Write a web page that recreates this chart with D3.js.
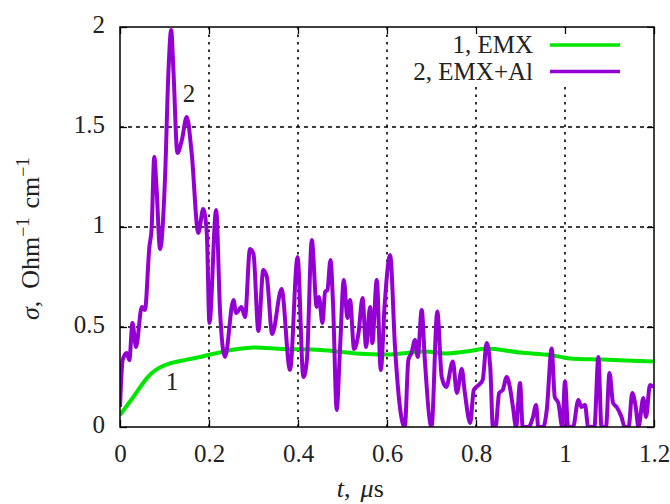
<!DOCTYPE html>
<html>
<head>
<meta charset="utf-8">
<script src="https://cdn.jsdelivr.net/npm/d3@7.9.0/dist/d3.min.js"></script>
<style>
  body { margin: 0; background: #fff; }
  text { font-family: "Liberation Serif", "DejaVu Serif", serif; fill: #222; }
</style>
</head>
<body>
<svg id="chart" width="670" height="504"></svg>
<script>
// curve 1, EMX
const tEmx = [0, 0.015, 0.030, 0.045, 0.060, 0.073, 0.086, 0.10, 0.112, 0.135, 0.157, 0.18, 0.199,
  0.232, 0.265, 0.30, 0.367, 0.45, 0.532, 0.607, 0.682, 0.734, 0.787, 0.824, 0.899, 0.966, 1.011,
  1.086, 1.2];
const sigmaEmx = [0.06, 0.105, 0.15, 0.198, 0.243, 0.272, 0.293, 0.308, 0.318, 0.33, 0.34, 0.35, 0.36,
  0.377, 0.39, 0.398, 0.39, 0.385, 0.368, 0.363, 0.377, 0.368, 0.38, 0.393, 0.372, 0.36, 0.343,
  0.337, 0.327];

// curve 2, EMX+Al
const tEmxAl = [0, 0.006, 0.015, 0.021, 0.028, 0.036, 0.049, 0.056, 0.066, 0.071, 0.077, 0.082, 0.090,
  0.101, 0.109, 0.115, 0.120, 0.129, 0.139, 0.150, 0.161, 0.176, 0.187, 0.195, 0.201, 0.216, 0.225,
  0.236, 0.255, 0.261, 0.273, 0.281, 0.292, 0.300, 0.311, 0.322, 0.330, 0.342, 0.363, 0.382, 0.399,
  0.412, 0.420, 0.431, 0.442, 0.447, 0.455, 0.461, 0.466, 0.473, 0.479, 0.487, 0.494, 0.503, 0.511,
  0.517, 0.526, 0.536, 0.545, 0.553, 0.562, 0.567, 0.577, 0.586, 0.595, 0.607, 0.618, 0.629, 0.640,
  0.648, 0.655, 0.663, 0.669, 0.678, 0.685, 0.700, 0.713, 0.723, 0.733, 0.748, 0.757, 0.768, 0.775,
  0.787, 0.795, 0.806, 0.815, 0.824, 0.832, 0.838, 0.844, 0.852, 0.860, 0.869, 0.876, 0.883, 0.890,
  0.899, 0.905, 0.918, 0.928, 0.935, 0.940, 0.951, 0.959, 0.970, 0.977, 0.985, 0.994, 1.000, 1.007,
  1.018, 1.030, 1.037, 1.045, 1.052, 1.066, 1.075, 1.082, 1.092, 1.100, 1.108, 1.116, 1.127, 1.134,
  1.143, 1.151, 1.159, 1.165, 1.176, 1.182, 1.191, 1.2];
const sigmaEmxAl = [0.10, 0.335, 0.37, 0.335, 0.52, 0.40, 0.60, 0.585, 0.90, 0.99, 1.35, 1.20, 0.89,
  1.235, 1.785, 1.985, 1.785, 1.37, 1.435, 1.55, 1.37, 0.97, 1.09, 0.97, 0.52, 1.085, 0.57,
  0.35, 0.635, 0.57, 0.60, 0.55, 0.89, 0.865, 0.48, 0.785, 0.75, 0.465, 0.69, 0.285, 0.85,
  0.25, 0.335, 0.935, 0.60, 0.65, 0.52, 0.677, 0.685, 0.835, 0.60, 0.085, 0.37, 0.735, 0.545,
  0.635, 0.39, 0.47, 0.645, 0.40, 0.60, 0.42, 0.735, 0.285, 0.62, 0.86, 0.40, 0.10, 0.0,
  0.335, 0.37, 0.435, 0.35, 0.585, 0.335, 0.0, 0.577, 0.25, 0.20, 0.327, 0.17, 0.29, 0.17,
  0.02, 0.185, 0.21, 0.235, 0.42, 0.30, 0.0, 0.0, 0.17, 0.185, 0.25, 0.20, 0.10, 0.0,
  0.22, 0.0, 0.0, 0.05, 0.11, 0.0, 0.0, 0.085, 0.393, 0.15, 0.12, 0.0, 0.227, 0.0,
  0.0, 0.135, 0.10, 0.11, 0.0, 0.0, 0.35, 0.0, 0.0, 0.27, 0.12, 0.10, 0.05, 0.0,
  0.0, 0.17, 0.10, 0.0, 0.145, 0.05, 0.21, 0.2];

const xTicks = [0, 0.2, 0.4, 0.6, 0.8, 1, 1.2];
const yTicks = [0, 0.5, 1, 1.5, 2];
const legendLabels = ["1, EMX", "2, EMX+Al"];
const colors = ["#00e600", "#9400d3"];

const svg = d3.select('#chart');
const margin = { left: 120, top: 27, right: 16, bottom: 77 };
const w = 670 - margin.left - margin.right;
const h = 504 - margin.top - margin.bottom;

const x = d3.scaleLinear().domain([0, 1.2]).range([0, w]);
const y = d3.scaleLinear().domain([0, 2]).range([h, 0]);

const g = svg.append('g').attr('transform', `translate(${margin.left},${margin.top})`);

// grid lines
g.selectAll('.vgrid').data(xTicks.slice(1, -1)).join('line')
  .attr('x1', d => x(d)).attr('x2', d => x(d))
  .attr('y1', 0).attr('y2', h)
  .attr('stroke', '#000').attr('stroke-width', 1.6).attr('stroke-dasharray', '2.5,5');
g.selectAll('.hgrid').data(yTicks.slice(1, -1)).join('line')
  .attr('x1', 0).attr('x2', w)
  .attr('y1', d => y(d)).attr('y2', d => y(d))
  .attr('stroke', '#000').attr('stroke-width', 1.6).attr('stroke-dasharray', '4,4');

// axes with inward ticks, mirrored
const fmt = d => String(d);
g.append('g').attr('transform', `translate(0,${h})`)
  .call(d3.axisBottom(x).tickValues(xTicks).tickSizeInner(-7).tickSizeOuter(0).tickPadding(17).tickFormat(fmt));
const yAxis = g.append('g')
  .call(d3.axisLeft(y).tickValues(yTicks).tickSizeInner(-7).tickSizeOuter(0).tickPadding(15).tickFormat(fmt));
g.append('g').attr('transform', `translate(${w},0)`)
  .call(d3.axisRight(y).tickValues(yTicks).tickSizeInner(-7).tickSizeOuter(0).tickFormat(''));

// legend box hides the grid behind it
g.append('rect').attr('x', 274).attr('y', 1).attr('width', w - 275).attr('height', 57).attr('fill', '#fff');
g.append('g')
  .call(d3.axisTop(x).tickValues(xTicks).tickSizeInner(-7).tickSizeOuter(0).tickFormat(''));

g.selectAll('.domain').remove();
g.selectAll('.tick line').attr('stroke', '#000').attr('stroke-width', 1.3);
g.selectAll('.tick text').style('font-size', '25px').style('font-family', '"Liberation Serif", serif').attr('fill', '#222');
yAxis.selectAll('.tick text').attr('dy', '0.2em');

legendLabels.forEach((label, i) => {
  const ly = 18 + i * 26.5;
  g.append('text').attr('x', 413).attr('y', ly).attr('dy', '0.33em')
    .attr('text-anchor', 'end').style('font-size', '25px').text(label);
  g.append('line').attr('x1', 430).attr('x2', 500).attr('y1', ly).attr('y2', ly)
    .attr('stroke', colors[i]).attr('stroke-width', 3.5);
});

// curves
g.append('clipPath').attr('id', 'clip').append('rect').attr('width', w).attr('height', h);
const lineSmooth = d3.line().x(d => x(d[0])).y(d => y(d[1])).curve(d3.curveCatmullRom.alpha(0.5));
const lineWiggly = d3.line().x(d => x(d[0])).y(d => y(d[1])).curve(d3.curveMonotoneX);
const series = [d3.zip(tEmx, sigmaEmx), d3.zip(tEmxAl, sigmaEmxAl)];
g.append('g').attr('clip-path', 'url(#clip)')
  .selectAll('path').data(series).join('path')
  .attr('d', (d, i) => i === 0 ? lineSmooth(d) : lineWiggly(d))
  .attr('fill', 'none')
  .attr('stroke', (d, i) => colors[i])
  .attr('stroke-width', 4)
  .attr('stroke-linejoin', 'round');

// frame
g.append('rect').attr('width', w).attr('height', h)
  .attr('fill', 'none').attr('stroke', '#000').attr('stroke-width', 1.5);

// curve labels
g.append('text').attr('x', x(0.117)).attr('y', y(0.185)).attr('text-anchor', 'middle')
  .style('font-size', '25px').text('1');
g.append('text').attr('x', x(0.155)).attr('y', y(1.625)).attr('text-anchor', 'middle')
  .style('font-size', '25px').text('2');

// axis titles
const xl = svg.append('text').attr('x', margin.left + x(0.54)).attr('y', 497).attr('text-anchor', 'middle')
  .style('font-size', '26px');
xl.append('tspan').attr('font-style', 'italic').text('t');
xl.append('tspan').text(',');
xl.append('tspan').attr('dx', 10).attr('font-style', 'italic').text('μ');
xl.append('tspan').text('s');

const yl = svg.append('text').attr('transform', 'translate(39,320) rotate(-90)')
  .attr('text-anchor', 'start').style('font-size', '26px');
yl.append('tspan').attr('font-style', 'italic').text('σ');
yl.append('tspan').text(',');
yl.append('tspan').attr('dx', 12).text('Ohm');
yl.append('tspan').attr('dy', -10).style('font-size', '18px').text('−1');
yl.append('tspan').attr('dy', 10).attr('dx', 9).text('cm');
yl.append('tspan').attr('dy', -10).style('font-size', '18px').text('−1');
</script>
</body>
</html>
